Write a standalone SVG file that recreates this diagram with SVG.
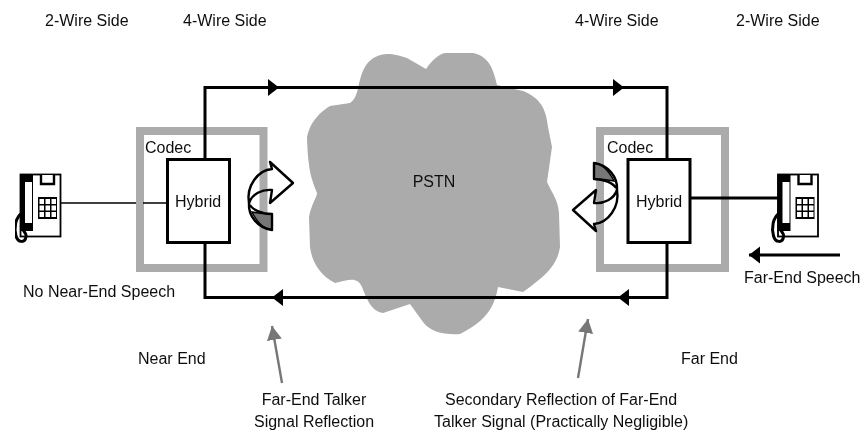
<svg xmlns="http://www.w3.org/2000/svg" width="868" height="431" viewBox="0 0 868 431">
  <style>
    text { font-family: "Liberation Sans", Arial, sans-serif; font-size: 16px; fill: #111; }
    .c { text-anchor: middle; }
    .codec { fill: none; stroke: #ababab; stroke-width: 8; }
    .hybrid { fill: #fff; stroke: #000; stroke-width: 3; }
    .wire { fill: none; stroke: #000; stroke-width: 3; }
    .thin { fill: none; stroke: #000; stroke-width: 1.6; }
    .far { marker-end: url(#head); }
    .pointer { fill: none; stroke: #777; stroke-width: 2.4; marker-end: url(#ghead); }
    .ic { fill: none; stroke: #000; stroke-width: 2.4; stroke-linejoin: round; }
    .wedge { fill: #777; stroke: #000; stroke-width: 1.4; }
  </style>
  <defs>
    <filter id="soft" x="0" y="0" width="100%" height="100%"><feGaussianBlur stdDeviation="0.4"/></filter>
    <marker id="head" markerUnits="userSpaceOnUse" markerWidth="12" markerHeight="18" refX="11" refY="9" orient="auto">
      <path d="M0,0.5 L11,9 L0,17.5Z" fill="#000"/>
    </marker>
    <marker id="ghead" markerUnits="userSpaceOnUse" markerWidth="15" markerHeight="16" refX="14" refY="8" orient="auto">
      <path d="M0,0.5 L14,8 L0,15.5Z" fill="#777"/>
    </marker>
    <g id="phone">
      <rect x="20.5" y="174.5" width="40" height="62" fill="#fff" stroke="#000" stroke-width="1.8"/>
      <path d="M20,175 H33 V231 H20Z" fill="#000"/>
      <rect x="25" y="182" width="7" height="41" fill="#fff"/>
      <path d="M41,175 V184 H54 V175" fill="#fff" stroke="#000" stroke-width="2.4"/>
      <rect x="38" y="197" width="19" height="22" fill="#000"/>
      <g fill="#fff">
        <rect x="39.5" y="199" width="4.5" height="5"/><rect x="45.5" y="199" width="4.5" height="5"/><rect x="51.5" y="199" width="4.5" height="5"/>
        <rect x="39.5" y="205.5" width="4.5" height="5"/><rect x="45.5" y="205.5" width="4.5" height="5"/><rect x="51.5" y="205.5" width="4.5" height="5"/>
        <rect x="39.5" y="212" width="4.5" height="5"/><rect x="45.5" y="212" width="4.5" height="5"/><rect x="51.5" y="212" width="4.5" height="5"/>
      </g>
      <path d="M22,213 C15,218 14,228 16,236 C18,243 25,243 26,237 C27,232 22,231 21,226" fill="none" stroke="#000" stroke-width="3"/>
    </g>
    <g id="reflection">
      <path class="wedge" d="M252,212 C257,213 265,214 272,214 L272,230 C263,229 257,222 252,212Z"/>
      <path class="ic" d="M272,169 L270,162 L293,183 L270,203 L272,190 C262,189 252,194 249,203 C246,186 258,170 272,169Z"/>
      <path class="ic" d="M249,203 C248,216 258,228 272,230 L272,214 C262,214 253,210 250,205"/>
    </g>
  </defs>
  <rect width="868" height="431" fill="#fff"/>
  <g filter="url(#soft)">
  <g id="pstn">
    <path fill="#ababab" d="M387,54 C395,54 400,56 407,58 L426,69 C432,60 440,53 446,53 L473,53 C490,56 494,72 497,85 L523,91 C540,98 546,108 548,127 L552,147 L547,182 C553,195 558,200 559,213 L560,247 C557,265 547,275 523,292 L498,287 C495,305 488,320 460,334 C445,335 430,332 423,322 L410,304 L383,313 C372,312 367,300 362,287 C358,278 352,278 335,283 C320,275 312,262 310,247 L309,217 C311,205 317,197 317,193 C312,180 308,172 307,137 C310,122 320,112 330,106 L350,103 C358,98 358,85 360,80 C365,60 375,55 387,54Z"/>
    <text x="434" y="187" class="c">PSTN</text>
  </g>

  <g id="codec-near">
    <rect class="codec" x="140" y="131" width="123.5" height="137"/>
    <text x="145" y="153">Codec</text>
  </g>
  <g id="codec-far">
    <rect class="codec" x="600" y="131" width="125" height="137"/>
    <text x="607" y="153">Codec</text>
  </g>

  <g id="connectors">
    <path class="wire far" d="M205,159 V87.5 H279"/>
    <path class="wire far" d="M279,87.5 H624"/>
    <path class="wire" d="M624,87.5 H667 V159"/>
    <path class="wire far" d="M667,243 V297.5 H618"/>
    <path class="wire far" d="M618,297.5 H272"/>
    <path class="wire" d="M272,297.5 H205 V243"/>
    <path class="thin" d="M61,203 H136 M143,203 H167"/>
    <path class="wire" d="M691,198 H778"/>
    <path class="wire far" d="M840,255 H749"/>
    <path class="pointer" d="M282,383 L272,326"/>
    <path class="pointer" d="M578,378 L588,319"/>
  </g>

  <g id="hybrid-near">
    <rect class="hybrid" x="167.5" y="159.5" width="62" height="83"/>
    <text x="175" y="207">Hybrid</text>
  </g>
  <g id="hybrid-far">
    <rect class="hybrid" x="628" y="159.5" width="62" height="83"/>
    <text x="636" y="207">Hybrid</text>
  </g>

  <g id="reflection-near"><use href="#reflection"/></g>
  <g id="reflection-far"><use href="#reflection" transform="rotate(180 433 196.5)"/></g>

  <g id="phone-near"><use href="#phone"/></g>
  <g id="phone-far"><use href="#phone" x="757.5"/></g>

  <g id="labels">
    <text x="45" y="26">2-Wire Side</text>
    <text x="183" y="26">4-Wire Side</text>
    <text x="575" y="26">4-Wire Side</text>
    <text x="736" y="26">2-Wire Side</text>
    <text x="23" y="297">No Near-End Speech</text>
    <text x="744" y="283">Far-End Speech</text>
    <text x="138" y="364">Near End</text>
    <text x="681" y="364">Far End</text>
    <text x="314" y="405" class="c">Far-End Talker</text>
    <text x="314" y="427" class="c">Signal Reflection</text>
    <text x="445" y="405">Secondary Reflection of Far-End</text>
    <text x="434" y="427">Talker Signal (Practically Negligible)</text>
  </g>
  </g>
</svg>
